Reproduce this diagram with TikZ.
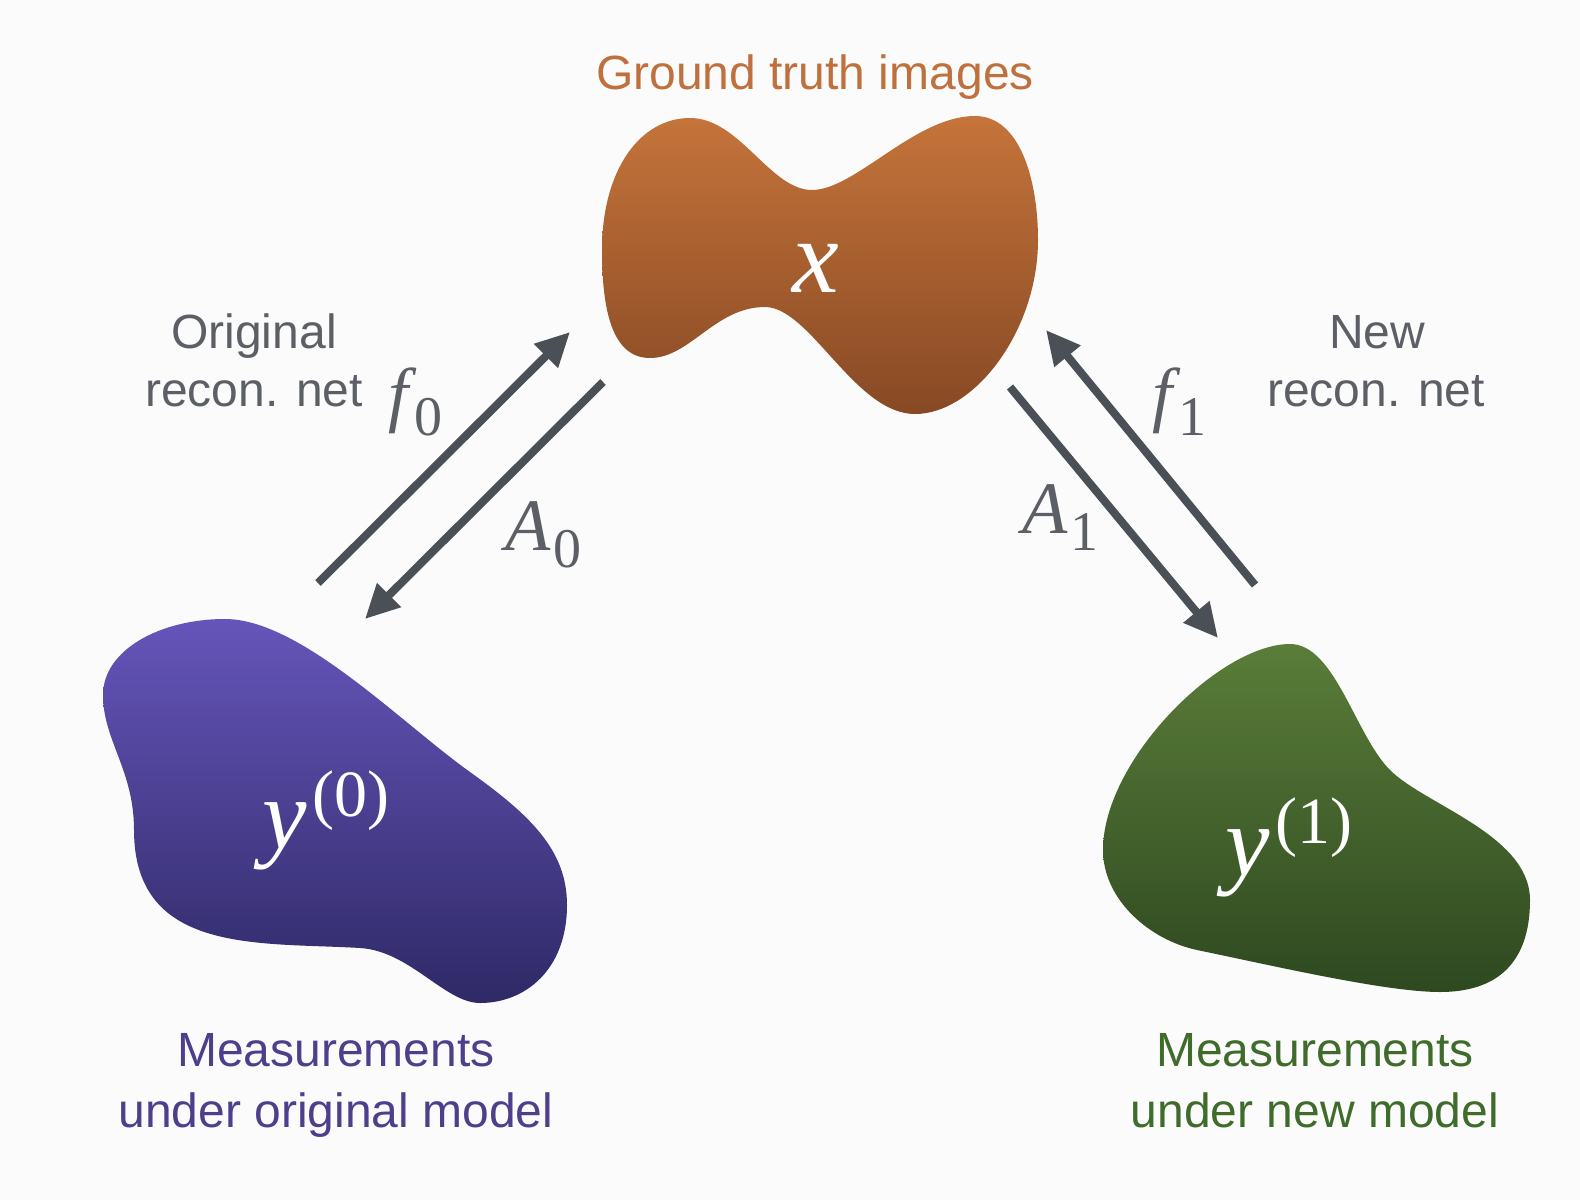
\documentclass[tikz,border=0pt]{standalone}
\usepackage{fontspec}
\setmainfont{Liberation Sans}
\newfontfamily\tms{Liberation Serif}
\usetikzlibrary{arrows.meta}
\definecolor{bgc}{HTML}{FBFBFB}
\definecolor{arrowgray}{HTML}{4B5056}
\definecolor{txtgray}{HTML}{5C6066}
\definecolor{orangetop}{HTML}{C5743A}
\definecolor{orangebot}{HTML}{874924}
\definecolor{purpletop}{HTML}{6555BA}
\definecolor{purplebot}{HTML}{2F2966}
\definecolor{greentop}{HTML}{5A7D39}
\definecolor{greenbot}{HTML}{2E4820}
\definecolor{purpletxt}{HTML}{4E3E8C}
\definecolor{greentxt}{HTML}{3F6B2B}
\definecolor{orangetxt}{HTML}{C0703D}
\newcommand{\mvar}[3]{{\tms\fontsize{#1}{#1}\selectfont\itshape #2}\kern#3}
\newcommand{\msub}[1]{\raisebox{-17pt}{\tms\fontsize{56}{60}\selectfont #1}}
\newcommand{\msup}[1]{\raisebox{32pt}{\tms\fontsize{66}{72}\selectfont (#1)}}
\tikzset{
  lbl/.style={font=\fontsize{48}{58}\selectfont, align=center, anchor=base},
  mathlbl/.style={text=txtgray, inner sep=0pt, anchor=base west},
  bloblbl/.style={text=white, inner sep=0pt},
  conn/.style={draw=arrowgray, line width=8pt, -{Triangle[length=34pt,width=32pt]}}
}
\begin{document}
\begin{tikzpicture}[x=1pt,y=-1pt]
\useasboundingbox (0,0) rectangle (1580,1200);
\fill[bgc] (0,0) rectangle (1580,1200);

% orange blob (ground truth)
\shade[top color=orangetop, bottom color=orangebot]
  (602,250) .. controls (602,170) and (640,118) .. (690,118)
  .. controls (740,118) and (770,190) .. (812,190)
  .. controls (855,190) and (915,116) .. (975,116)
  .. controls (1020,116) and (1038,180) .. (1038,240)
  .. controls (1038,330) and (975,414) .. (915,414)
  .. controls (855,414) and (810,307) .. (765,307)
  .. controls (715,307) and (690,358) .. (650,358)
  .. controls (612,358) and (602,310) .. (602,250) -- cycle;

% purple blob (original measurements)
\shade[top color=purpletop, bottom color=purplebot]
  (225,619) .. controls (300,619) and (400,722) .. (470,772)
  .. controls (530,815) and (567,850) .. (567,905)
  .. controls (567,970) and (525,1003) .. (480,1003)
  .. controls (445,1003) and (410,951) .. (360,948)
  .. controls (260,942) and (134,955) .. (134,830)
  .. controls (134,770) and (103,740) .. (103,695)
  .. controls (103,650) and (160,619) .. (225,619) -- cycle;

% green blob (new measurements)
\shade[top color=greentop, bottom color=greenbot]
  (1290,644) .. controls (1335,644) and (1355,735) .. (1390,770)
  .. controls (1425,805) and (1530,835) .. (1530,900)
  .. controls (1530,965) and (1495,992) .. (1440,992)
  .. controls (1385,992) and (1270,965) .. (1197,950)
  .. controls (1150,940) and (1103,900) .. (1103,850)
  .. controls (1103,760) and (1220,644) .. (1290,644) -- cycle;

% blob labels
\node[bloblbl, anchor=base] (x) at (816,292) {\mvar{105}{x}{0pt}};
\node[bloblbl, anchor=base west] (y0) at (262,848) {\mvar{100}{y}{6pt}\msup{0}};
\node[bloblbl, anchor=base west] (y1) at (1225,875) {\mvar{100}{y}{6pt}\msup{1}};

% texts
\node[lbl, text=orangetxt] (gt) at (815,89) {Ground truth images};
\node[lbl, text=txtgray] (orig1) at (254,348) {Original};
\node[lbl, text=txtgray] (orig2) at (254,406) {recon. net};
\node[lbl, text=txtgray] (new1) at (1377,348) {New};
\node[lbl, text=txtgray] (new2) at (1376,406) {recon. net};
\node[lbl, text=purpletxt] (m0a) at (336,1066) {Measurements};
\node[lbl, text=purpletxt] (m0b) at (336,1127) {under original model};
\node[lbl, text=greentxt] (m1a) at (1315,1066) {Measurements};
\node[lbl, text=greentxt] (m1b) at (1315,1127) {under new model};

% arrow labels
\node[mathlbl] (lf0) at (388,418) {\mvar{72}{f}{6pt}\msub{0}};
\node[mathlbl] (lA0) at (505,550) {\mvar{74}{A}{3pt}\msub{0}};
\node[mathlbl] (lf1) at (1152,418) {\mvar{72}{f}{6pt}\msub{1}};
\node[mathlbl] (lA1) at (1022,533) {\mvar{74}{A}{3pt}\msub{1}};

% connector end points
\coordinate (f0s) at (318,583);
\coordinate (f0e) at (570,332);
\coordinate (A0s) at (603,382);
\coordinate (A0e) at (365,619);
\coordinate (A1s) at (1010,387);
\coordinate (A1e) at (1218,638);
\coordinate (f1s) at (1255,585);
\coordinate (f1e) at (1046,330);

\draw[conn] (f0s) -- (f0e);
\draw[conn] (A0s) -- (A0e);
\draw[conn] (A1s) -- (A1e);
\draw[conn] (f1s) -- (f1e);
\end{tikzpicture}
\end{document}
